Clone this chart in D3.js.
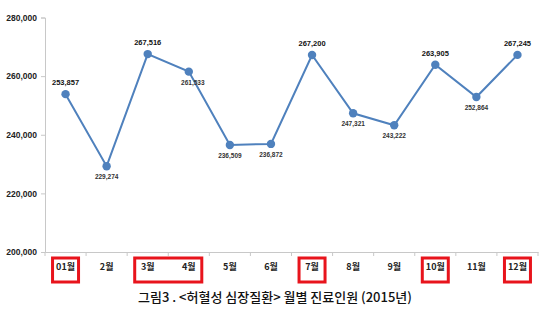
<!DOCTYPE html>
<html><head><meta charset="utf-8">
<script src="https://cdn.jsdelivr.net/npm/d3@7"></script>
<style>body{margin:0;background:#fff}svg{display:block}</style>
</head><body>
<svg id="c" width="550" height="310"></svg>
<script>
const months = ["01월","2월","3월","4월","5월","6월","7월","8월","9월","10월","11월","12월"];
const patients = [253857,229274,267516,261533,236509,236872,267200,247321,243222,263905,252864,267245];
const labelBelow = [false,true,false,true,true,true,false,true,true,false,true,false];
const labelBold = [true,false,true,false,false,false,true,false,false,true,false,true];
const yTicks = [200000,220000,240000,260000,280000];
const boxedGroups = [["01월"],["3월","4월"],["7월"],["10월"],["12월"]];
const title = "그림3 . <허혈성 심장질환> 월별 진료인원 (2015년)";

const svg = d3.select("#c");
const m = {l:45, r:538, t:17.5, b:252};
const x = d3.scaleBand().domain(months).range([m.l, m.r]);
const y = d3.scaleLinear().domain([200000,280000]).range([m.b, m.t]);
const font = "'Malgun Gothic','Noto Sans CJK KR',sans-serif";

// y axis
const ya = svg.append("g").attr("transform",`translate(${m.l},0)`)
  .call(d3.axisLeft(y).tickValues(yTicks).tickSize(4).tickFormat(d3.format(",")));
ya.select(".domain").attr("stroke","#c8c8c8");
ya.selectAll(".tick line").attr("stroke","#c8c8c8");
ya.selectAll(".tick text").attr("font-family","Arial,'Liberation Sans',sans-serif").attr("font-weight","bold").attr("font-size",8.5).attr("fill","#222").attr("x",-8);

// x axis
const xa = svg.append("g").attr("transform",`translate(0,${m.b})`)
  .call(d3.axisBottom(x).tickSize(0).tickPadding(12));
xa.select(".domain").attr("stroke","#c8c8c8");
xa.selectAll(".tick text").attr("font-family",font).attr("font-weight","bold").attr("font-size",9).attr("fill","#222");
// boundary ticks
const bounds = months.map(d=>x(d)).concat([m.r]);
svg.append("g").selectAll("line").data(bounds).join("line")
  .attr("x1",d=>d).attr("x2",d=>d).attr("y1",m.b).attr("y2",m.b+4).attr("stroke","#c8c8c8");

// red boxes
svg.append("g").selectAll("rect").data(boxedGroups).join("rect")
  .attr("x",g=>x(g[0])+x.bandwidth()/2-13)
  .attr("width",g=>x(g[g.length-1])-x(g[0])+26)
  .attr("y",258).attr("height",24)
  .attr("fill","none").attr("stroke","#e8141c").attr("stroke-width",3);

// line
const cx = d=>x(d)+x.bandwidth()/2;
svg.append("path").datum(patients)
  .attr("d",d3.line().x((d,i)=>cx(months[i])).y(d=>y(d)))
  .attr("fill","none").attr("stroke","#4f81bd").attr("stroke-width",2);
svg.append("g").selectAll("circle").data(patients).join("circle")
  .attr("cx",(d,i)=>cx(months[i])).attr("cy",d=>y(d)).attr("r",4.2).attr("fill","#4f81bd");

// data labels
svg.append("g").selectAll("text").data(patients).join("text")
  .attr("x",(d,i)=>cx(months[i]) + (i===3?4:0))
  .attr("y",(d,i)=>y(d) + (labelBelow[i]?13:-9))
  .attr("text-anchor","middle")
  .attr("font-family","Arial,'Liberation Sans',sans-serif")
  .attr("font-weight","bold")
  .attr("font-size",(d,i)=>labelBold[i]?7.5:6.5)
  .attr("fill",(d,i)=>labelBold[i]?"#111":"#333")
  .text(d=>d3.format(",")(d));

// title
svg.append("text").attr("x",275).attr("y",302).attr("text-anchor","middle")
  .attr("font-family",font).attr("font-size",13).attr("font-weight",500).attr("fill","#111").text(title);
</script>
</body></html>
